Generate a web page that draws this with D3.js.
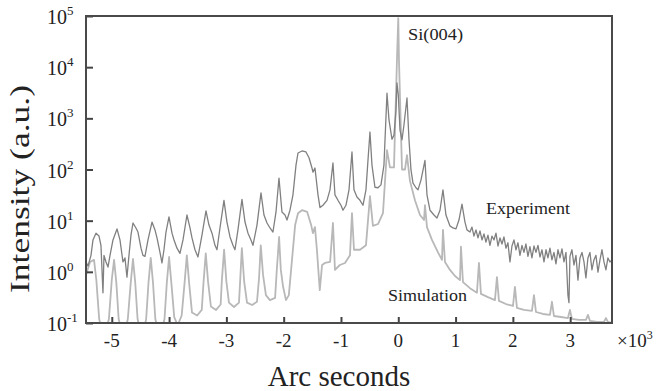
<!DOCTYPE html>
<html>
<head>
<meta charset="utf-8">
<script src="https://cdn.jsdelivr.net/npm/d3@7"></script>
<style>
  body { margin: 0; background: #fff; }
  svg { display: block; }
  text { font-family: "Liberation Serif", "Times New Roman", serif; fill: #222; }
</style>
</head>
<body>
<div id="container"></div>
<script>
// x values in 10^3 arc seconds, intensity in a.u.
const simulation = [
  [-5.45, 0.87], [-5.38, 1.56], [-5.31, 1.71], [-5.27, 0.7], [-5.22, 0.12], [-5.14, 0.05], [-5.05, 0.12],
  [-5.0, 0.7], [-4.96, 1.71], [-4.92, 0.6], [-4.88, 0.12], [-4.8, 0.05], [-4.72, 0.12],
  [-4.67, 0.6], [-4.63, 1.78], [-4.59, 0.6], [-4.55, 0.12], [-4.47, 0.05], [-4.4, 0.12],
  [-4.36, 0.6], [-4.32, 1.87], [-4.28, 0.6], [-4.24, 0.12], [-4.16, 0.05], [-4.08, 0.12],
  [-4.04, 0.6], [-4.0, 1.95], [-3.96, 0.6], [-3.91, 0.13], [-3.85, 0.09], [-3.78, 0.14],
  [-3.73, 0.6], [-3.69, 2.1], [-3.65, 0.6], [-3.6, 0.16], [-3.51, 0.14], [-3.43, 0.18],
  [-3.4, 0.6], [-3.36, 2.3], [-3.32, 0.65], [-3.27, 0.21], [-3.18, 0.18], [-3.1, 0.23],
  [-3.08, 0.65], [-3.04, 2.7], [-3.0, 0.65], [-2.955, 0.25], [-2.867, 0.205], [-2.78, 0.25],
  [-2.76, 0.65], [-2.73, 2.9], [-2.69, 0.65], [-2.64, 0.25], [-2.55, 0.225], [-2.466, 0.26],
  [-2.43, 0.75], [-2.4, 3.3], [-2.36, 0.87], [-2.31, 0.35], [-2.24, 0.28], [-2.15, 0.31],
  [-2.12, 1.09], [-2.08, 4.8], [-2.05, 1.09], [-2.01, 0.51], [-1.96, 0.28], [-1.91, 0.35],
  [-1.855, 1.71], [-1.8, 8.2], [-1.75, 14], [-1.68, 16], [-1.59, 14.8], [-1.52, 8.2],
  [-1.49, 5.7], [-1.454, 7.5], [-1.42, 2.7], [-1.37, 0.44], [-1.33, 1.36], [-1.28, 1.49],
  [-1.19, 1.56], [-1.14, 9.0], [-1.105, 1.09], [-1.02, 1.36], [-0.93, 1.49], [-0.843, 2.1],
  [-0.808, 14.1], [-0.773, 2.7], [-0.668, 2.7], [-0.564, 3.3], [-0.494, 30], [-0.442, 7.9],
  [-0.354, 8.6], [-0.267, 14.1], [-0.197, 240], [-0.145, 110], [-0.075, 110], [-0.023, 13800],
  [0.0, 91000], [0.012, 13800], [0.065, 100], [0.117, 100], [0.152, 190], [0.204, 60],
  [0.291, 25], [0.379, 12.9], [0.449, 10.3], [0.466, 20], [0.501, 7.5], [0.588, 4.2],
  [0.693, 2.4], [0.763, 1.71], [0.78, 6.6], [0.815, 1.56], [0.902, 1.09], [0.99, 0.83],
  [1.077, 0.69], [1.094, 3.1], [1.129, 0.63], [1.251, 0.48], [1.373, 0.39], [1.408, 1.49],
  [1.443, 0.37], [1.565, 0.32], [1.687, 0.28], [1.722, 0.79], [1.757, 0.27], [1.879, 0.235],
  [2.002, 0.215], [2.036, 0.51], [2.071, 0.197], [2.193, 0.18], [2.333, 0.172], [2.368, 0.35],
  [2.403, 0.164], [2.525, 0.15], [2.647, 0.144], [2.682, 0.26], [2.717, 0.137], [2.839, 0.131],
  [2.961, 0.125], [2.996, 0.18], [3.031, 0.12], [3.153, 0.115], [3.275, 0.115], [3.31, 0.144],
  [3.345, 0.11], [3.468, 0.105], [3.59, 0.105], [3.624, 0.125], [3.659, 0.105], [3.729, 0.1]
];

const experiment = [
  [-5.45, 1.56], [-5.415, 1.3], [-5.363, 2.1], [-5.328, 4.2], [-5.276, 5.7], [-5.223, 5.0],
  [-5.189, 3.3], [-5.154, 0.39], [-5.136, 2.1], [-5.101, 1.56], [-5.066, 1.24], [-5.031, 2.1],
  [-4.979, 4.2], [-4.909, 6.9], [-4.857, 4.2], [-4.805, 1.56], [-4.77, 1.87], [-4.735, 0.79],
  [-4.7, 2.1], [-4.665, 5.2], [-4.63, 9.0], [-4.578, 7.2], [-4.543, 6.0], [-4.49, 2.9],
  [-4.456, 2.1], [-4.421, 2.0], [-4.368, 4.2], [-4.298, 9.4], [-4.246, 6.6], [-4.211, 4.6],
  [-4.159, 2.4], [-4.124, 1.49], [-4.089, 2.7], [-4.054, 6.0], [-4.002, 11.8], [-3.949, 5.7],
  [-3.914, 4.2], [-3.862, 2.9], [-3.81, 2.3], [-3.757, 4.2], [-3.688, 12.9], [-3.635, 7.2],
  [-3.6, 4.6], [-3.548, 2.7], [-3.496, 1.95], [-3.426, 5.2], [-3.356, 15.5], [-3.304, 8.2],
  [-3.251, 5.7], [-3.199, 3.3], [-3.164, 2.7], [-3.112, 7.2], [-3.042, 25], [-2.99, 9.4],
  [-2.937, 4.8], [-2.885, 3.3], [-2.85, 2.7], [-2.798, 6.6], [-2.728, 26], [-2.675, 9.4],
  [-2.623, 5.7], [-2.571, 4.2], [-2.536, 3.3], [-2.466, 8.2], [-2.396, 35], [-2.344, 12.9],
  [-2.291, 9.0], [-2.239, 7.2], [-2.187, 6.0], [-2.134, 14.8], [-2.082, 68], [-2.03, 14.8],
  [-1.977, 12.9], [-1.942, 10.3], [-1.89, 16], [-1.838, 32], [-1.785, 122], [-1.75, 210],
  [-1.681, 230], [-1.611, 220], [-1.558, 170], [-1.506, 107], [-1.489, 89], [-1.454, 107],
  [-1.401, 32], [-1.366, 18], [-1.314, 20], [-1.244, 25], [-1.192, 40], [-1.14, 134],
  [-1.105, 32], [-1.052, 25], [-1.0, 20], [-0.965, 16], [-0.913, 20], [-0.86, 40],
  [-0.808, 220], [-0.773, 40], [-0.721, 29], [-0.668, 25], [-0.616, 20], [-0.564, 40],
  [-0.529, 150], [-0.494, 540], [-0.459, 122], [-0.407, 45], [-0.354, 44], [-0.302, 50],
  [-0.25, 122], [-0.197, 3100], [-0.162, 930], [-0.11, 390], [-0.075, 470], [-0.04, 1450],
  [-0.023, 4900], [0.0, 2900], [0.03, 590], [0.065, 380], [0.099, 740], [0.152, 2500],
  [0.187, 380], [0.222, 98], [0.257, 54], [0.309, 44], [0.344, 40], [0.396, 62],
  [0.466, 150], [0.501, 32], [0.553, 16], [0.623, 12.9], [0.675, 11.3], [0.728, 16],
  [0.78, 40], [0.832, 12.9], [0.902, 7.9], [0.955, 7.2], [1.007, 6.9], [1.059, 10.3],
  [1.112, 21], [1.164, 9.4], [1.199, 6.6], [1.251, 6.0], [1.286, 7.5], [1.321, 5.0],
  [1.356, 6.6], [1.391, 4.6], [1.426, 6.3], [1.461, 4.2], [1.496, 5.5], [1.53, 3.8],
  [1.565, 5.2], [1.6, 3.3], [1.635, 5.0], [1.67, 4.2], [1.705, 5.7], [1.74, 3.2],
  [1.775, 4.6], [1.81, 3.5], [1.844, 4.8], [1.879, 2.9], [1.914, 3.7], [1.949, 1.56],
  [1.984, 3.2], [2.019, 4.2], [2.054, 2.7], [2.089, 3.7], [2.124, 2.1], [2.159, 3.3],
  [2.193, 2.4], [2.228, 3.5], [2.263, 2.0], [2.298, 3.1], [2.333, 1.87], [2.368, 3.2],
  [2.403, 2.4], [2.438, 3.3], [2.473, 1.95], [2.508, 2.7], [2.543, 1.56], [2.578, 2.7],
  [2.612, 1.87], [2.647, 2.9], [2.682, 1.71], [2.717, 2.4], [2.752, 1.43], [2.787, 2.7],
  [2.822, 1.87], [2.857, 2.8], [2.892, 1.56], [2.927, 2.4], [2.961, 0.35], [2.979, 0.25],
  [2.996, 2.0], [3.031, 2.7], [3.066, 1.36], [3.101, 2.1], [3.136, 0.69], [3.171, 1.87],
  [3.206, 2.4], [3.241, 1.56], [3.275, 0.76], [3.31, 1.87], [3.345, 2.4], [3.38, 1.09],
  [3.415, 1.71], [3.45, 2.1], [3.485, 0.99], [3.52, 1.71], [3.555, 2.7], [3.59, 1.56],
  [3.624, 1.09], [3.659, 1.87], [3.694, 1.56], [3.729, 1.71]
];

const xTicks = [-5, -4, -3, -2, -1, 0, 1, 2, 3];
const yExponents = [-1, 0, 1, 2, 3, 4, 5];
const xDomain = [-5.45, 3.73];
const yDomain = [0.1, 1e5];

const W = 663, H = 391;
const margin = { top: 16, right: 51, bottom: 68, left: 86 };
const width = W - margin.left - margin.right;
const height = H - margin.top - margin.bottom;

const svg = d3.select("#container").append("svg")
  .attr("width", W).attr("height", H);

const g = svg.append("g")
  .attr("transform", "translate(" + margin.left + "," + margin.top + ")");

const x = d3.scaleLinear().domain(xDomain).range([0, width]);
const y = d3.scaleLog().domain(yDomain).range([height, 0]);

g.append("clipPath").attr("id", "plot-clip")
  .append("rect").attr("width", width).attr("height", height);

const line = d3.line().x(d => x(d[0])).y(d => y(d[1]));

// simulation underneath, experiment on top
g.append("path").datum(simulation)
  .attr("clip-path", "url(#plot-clip)")
  .attr("fill", "none").attr("stroke", "#b8b8b8").attr("stroke-width", 1.8)
  .attr("stroke-linejoin", "round")
  .attr("d", line);

g.append("path").datum(experiment)
  .attr("clip-path", "url(#plot-clip)")
  .attr("fill", "none").attr("stroke", "#808080").attr("stroke-width", 1.3)
  .attr("stroke-linejoin", "round")
  .attr("d", line);

// ticks pointing inward
const yAxis = g.append("g")
  .call(d3.axisLeft(y).tickValues(yExponents.map(e => Math.pow(10, e))).tickSize(-7).tickFormat(""));
const xAxis = g.append("g").attr("transform", "translate(0," + height + ")")
  .call(d3.axisBottom(x).tickValues(xTicks).tickSize(-6).tickFormat(""));
[yAxis, xAxis].forEach(a => {
  a.select(".domain").remove();
  a.selectAll(".tick line").attr("stroke", "#444").attr("stroke-width", 2);
});

g.append("rect")
  .attr("width", width).attr("height", height)
  .attr("fill", "none").attr("stroke", "#4a4a4a").attr("stroke-width", 2);

// y tick labels 10^n
const yLab = g.selectAll(".ylab").data(yExponents).enter().append("text")
  .attr("x", -39).attr("y", e => y(Math.pow(10, e)) + 8)
  .style("font-size", "20px");
yLab.append("tspan").text("10");
yLab.append("tspan").attr("dy", -9).style("font-size", "13px").text(e => String(e));

// x tick labels
g.selectAll(".xlab").data(xTicks).enter().append("text")
  .attr("x", d => x(d)).attr("y", height + 24)
  .attr("text-anchor", "middle")
  .style("font-size", "19px")
  .text(d => String(d));

const mult = svg.append("text").attr("x", 617).attr("y", 347).style("font-size", "19px");
mult.append("tspan").text("\u00d710");
mult.append("tspan").attr("dy", -8).style("font-size", "12px").text("3");

// axis titles
svg.append("text")
  .attr("x", 339).attr("y", 386)
  .attr("text-anchor", "middle")
  .style("font-size", "29px")
  .text("Arc seconds");

svg.append("text")
  .attr("transform", "translate(29,189) rotate(-90)")
  .attr("text-anchor", "middle")
  .attr("textLength", 208).attr("lengthAdjust", "spacingAndGlyphs")
  .style("font-size", "28px")
  .text("Intensity (a.u.)");

// annotations
svg.append("text").attr("x", 408).attr("y", 40)
  .attr("textLength", 55).attr("lengthAdjust", "spacingAndGlyphs")
  .style("font-size", "16px").text("Si(004)");
svg.append("text").attr("x", 486).attr("y", 214)
  .attr("textLength", 84).attr("lengthAdjust", "spacingAndGlyphs")
  .style("font-size", "16px").text("Experiment");
svg.append("text").attr("x", 388).attr("y", 301)
  .attr("textLength", 79).attr("lengthAdjust", "spacingAndGlyphs")
  .style("font-size", "16px").text("Simulation");
</script>
</body>
</html>
